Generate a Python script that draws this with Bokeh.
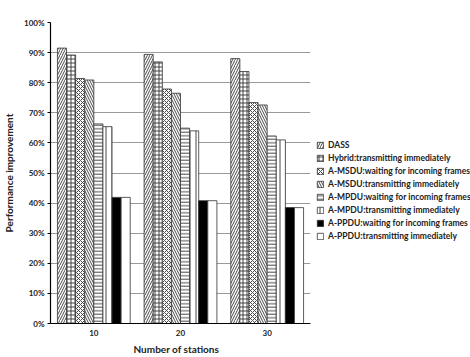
from bokeh.plotting import figure
from bokeh.models import Legend, LegendItem, Title
from bokeh.transform import dodge
from bokeh.embed import file_html
from bokeh.resources import INLINE

# Number of stations
stations = ["10", "20", "30"]

# Performance improvement (%) per scheme
dass = [91.5, 89.4, 88.0]
hybrid_tx = [89.2, 86.9, 83.7]
msdu_wait = [81.4, 77.9, 73.4]
msdu_tx = [80.9, 76.5, 72.6]
mpdu_wait = [66.3, 64.9, 62.3]
mpdu_tx = [65.4, 64.0, 61.0]
ppdu_wait = [41.9, 40.8, 38.5]
ppdu_tx = [41.9, 40.8, 38.5]

series_names = [
    "DASS",
    "Hybrid:transmitting immediately",
    "A-MSDU:waiting for incoming frames",
    "A-MSDU:transmitting immediately",
    "A-MPDU:waiting for incoming frames",
    "A-MPDU:transmitting immediately",
    "A-PPDU:waiting for incoming frames",
    "A-PPDU:transmitting immediately",
]
series_values = [dass, hybrid_tx, msdu_wait, msdu_tx, mpdu_wait, mpdu_tx, ppdu_wait, ppdu_tx]

# fill colour, hatch pattern, hatch spacing for each scheme
styles = [
    ("white", "/", 5),
    ("white", "+", 4),
    ("white", "x", 4),
    ("white", "\\", 5),
    ("white", "-", 3.5),
    ("white", "|", 6),
    ("black", " ", 4),
    ("white", " ", 4),
]

FONT = "Lato"
TXT = "#222222"

p = figure(
    frame_width=260, frame_height=301,
    x_range=stations, y_range=(0, 100),
    output_backend="svg", toolbar_location=None,
    min_border_left=47, min_border_right=0,
    min_border_top=22, min_border_bottom=0,
)
p.outline_line_color = None
p.background_fill_color = "white"
p.border_fill_color = "white"

bar_w = 0.105
n = len(series_names)
items = []
for i, (name, vals, (fill, hatch, scale)) in enumerate(zip(series_names, series_values, styles)):
    offset = (i - (n - 1) / 2) * bar_w
    src = {"x": stations, "top": vals}
    r = p.vbar(
        x=dodge("x", offset, range=p.x_range), top="top", width=bar_w, source=src,
        fill_color=fill, line_color="#333333", line_width=0.8,
        hatch_pattern=hatch, hatch_color="#333333", hatch_scale=scale, hatch_weight=0.9,
    )
    items.append(LegendItem(label=name, renderers=[r]))

# axes
p.xgrid.grid_line_color = None
p.ygrid.grid_line_color = "#9a9a9a"
p.ygrid.grid_line_width = 1
p.yaxis.ticker = list(range(0, 101, 10))
p.yaxis.major_label_overrides = {v: f"{v}%" for v in range(0, 101, 10)}
p.yaxis.minor_tick_line_color = None
p.yaxis.major_tick_in = 0
p.yaxis.major_tick_out = 3
p.yaxis.axis_line_color = "black"
p.yaxis.axis_line_width = 1.2
p.yaxis.major_label_standoff = 3
p.yaxis.axis_label = "Performance improvement"
p.yaxis.axis_label_standoff = 6

p.xaxis.major_tick_line_color = None
p.xaxis.major_tick_out = 0
p.xaxis.axis_line_color = "black"
p.xaxis.axis_line_width = 1.2
p.xaxis.major_label_standoff = 6

for ax in (p.xaxis[0], p.yaxis[0]):
    ax.major_label_text_font = FONT
    ax.major_label_text_font_style = "bold"
    ax.major_label_text_font_size = "8px"
    ax.major_label_text_color = TXT
    ax.axis_label_text_font = FONT
    ax.axis_label_text_font_style = "bold"
    ax.axis_label_text_font_size = "10px"
    ax.axis_label_text_color = TXT

# x-axis title, set a little left of the frame centre
xtitle = Title(
    text="Number of stations", align="left", offset=83, standoff=4,
    text_font=FONT, text_font_style="bold", text_font_size="10px",
    text_color=TXT,
)
p.add_layout(xtitle, "below")

# legend panel to the right of the plotting frame
legend = Legend(
    items=items, location=(6, 82),
    glyph_width=8, glyph_height=8, label_height=8, spacing=3,
    label_standoff=4, padding=0, margin=0,
    label_text_font=FONT, label_text_font_style="bold",
    label_text_font_size="8.5px", label_text_color=TXT,
    border_line_color=None, background_fill_alpha=0,
)
p.add_layout(legend, "right")

open("out.html", "w").write(file_html(p, INLINE))
